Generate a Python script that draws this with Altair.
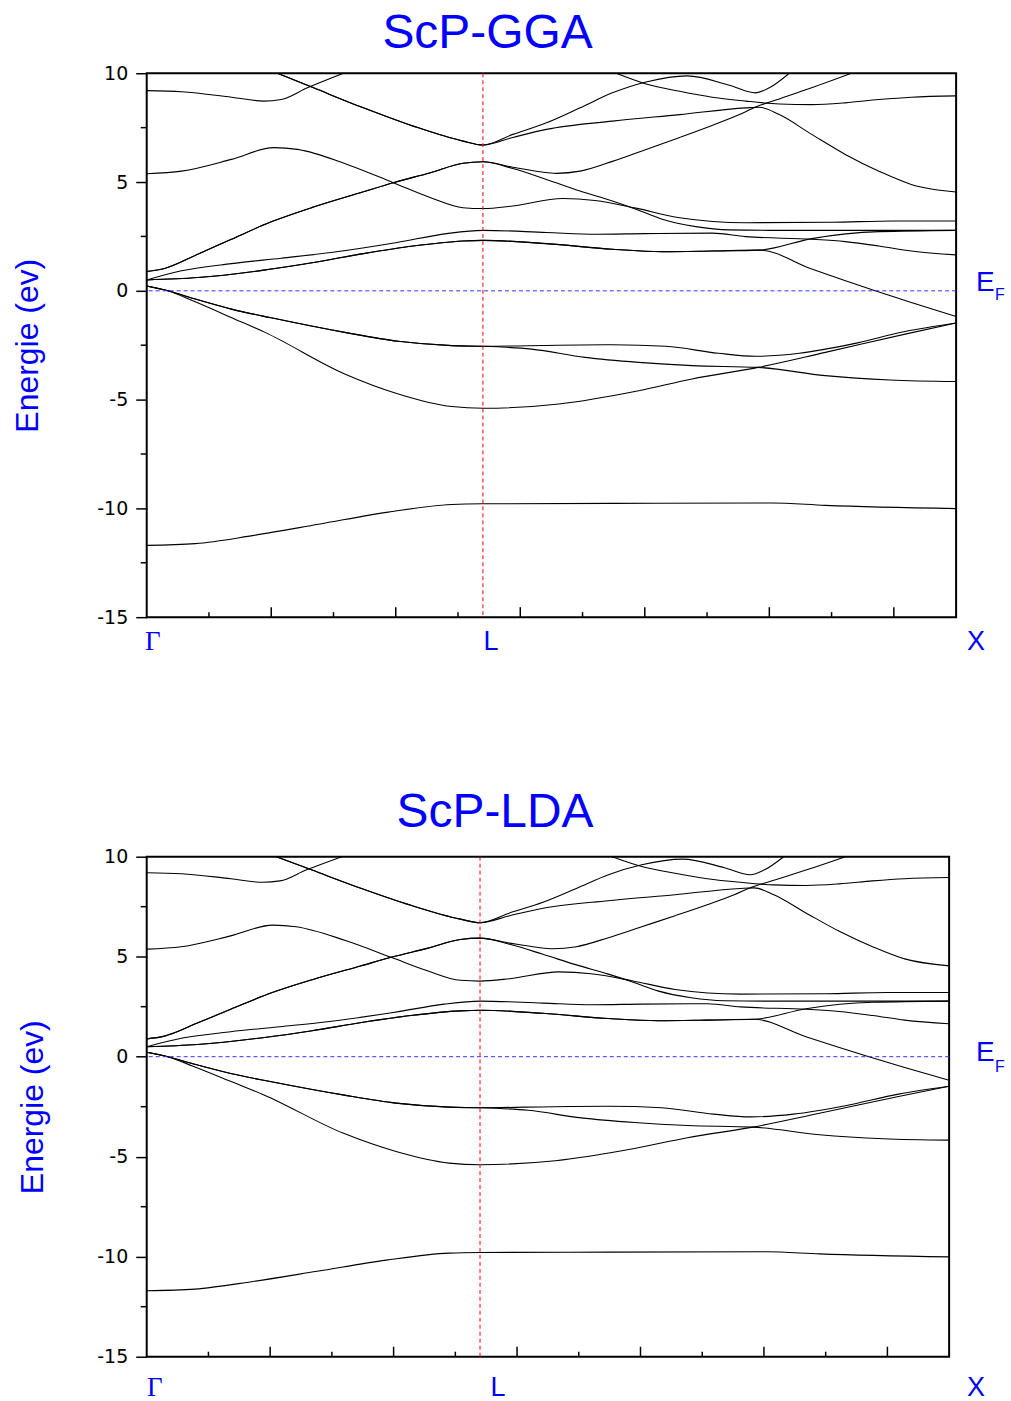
import altair as alt
import pandas as pd

BLUE = "#0000FF"
EF_BLUE = "#3333FF"

# high-symmetry points along the k-path (plot units)
SYM_LABELS = ["Γ", "L", "X"]
SYM_K = [0.0, 2.7, 6.5]
E_FERMI = 0.0

# axis tick values
Y_MAJOR = [-15, -10, -5, 0, 5, 10]
Y_MINOR = [-12.5, -7.5, -2.5, 2.5, 7.5]
K_MAJOR = [1, 2, 3, 4, 5, 6]
K_MINOR = [0.5, 1.5, 2.5, 3.5, 4.5, 5.5]

# ---- band segments: k coordinate and energy (eV) ----
# lowest valence band (P-s like), whole path
s1_k = [0.0, 0.39, 0.86, 1.38, 1.94, 2.45, 2.7, 3.74, 5.02, 5.45, 6.5]
s1_e = [-11.70, -11.62, -11.24, -10.73, -10.17, -9.82, -9.79, -9.77, -9.75, -9.86, -10.01]

# valence band dropping to L
v2_gl_k = [0.0, 0.17, 0.37, 0.70, 0.95, 1.59, 2.02, 2.45, 2.7]
v2_gl_e = [0.22, 0.0, -0.46, -1.28, -1.91, -3.82, -4.74, -5.32, -5.40]
v2_lx_k = [2.7, 3.31, 3.95, 4.38, 4.91, 5.45, 6.1, 6.5]
v2_lx_e = [-5.40, -5.20, -4.59, -4.05, -3.52, -2.83, -1.98, -1.48]

# doubly degenerate valence pair on Γ-L, splitting after L
v34_gl_k = [0.0, 0.17, 0.39, 0.68, 1.0, 1.59, 2.02, 2.45, 2.7]
v34_gl_e = [0.22, 0.0, -0.38, -0.84, -1.24, -1.91, -2.32, -2.52, -2.55]
v3_lx_k = [2.7, 3.09, 3.52, 3.95, 4.38, 4.91, 5.45, 5.97, 6.5]
v3_lx_e = [-2.55, -2.68, -3.06, -3.29, -3.44, -3.52, -3.90, -4.10, -4.17]
v4_lx_k = [2.7, 3.3, 3.74, 4.17, 4.59, 4.89, 5.24, 5.66, 6.09, 6.5]
v4_lx_e = [-2.55, -2.50, -2.48, -2.55, -2.87, -3.01, -2.87, -2.45, -1.87, -1.48]

# conduction pair from 0.5 eV at Γ (degenerate on Γ-L)
cT_gl_k = [0.0, 0.41, 0.94, 1.34, 1.74, 2.14, 2.54, 2.7]
cT_gl_e = [0.50, 0.61, 0.95, 1.30, 1.71, 2.06, 2.29, 2.32]
cT_lx_k = [2.7, 3.21, 3.74, 4.14, 4.54, 4.92]
cT_lx_e = [2.32, 2.17, 1.91, 1.80, 1.83, 1.87]
cT_up_k = [4.92, 5.34, 5.88, 6.5]
cT_up_e = [1.87, 2.40, 2.72, 2.78]
cT_dn_k = [4.92, 5.34, 5.85, 6.14, 6.5]
cT_dn_e = [1.87, 1.00, 0.00, -0.54, -1.18]

# single conduction band from 0.5 eV at Γ
cS_gl_k = [0.0, 0.28, 0.68, 1.08, 1.48, 2.01, 2.41, 2.7]
cS_gl_e = [0.50, 0.92, 1.25, 1.50, 1.76, 2.22, 2.63, 2.78]
cS_lx_k = [2.7, 3.21, 3.61, 4.0, 4.54, 4.81, 5.34, 5.61, 5.88, 6.14, 6.5]
cS_lx_e = [2.78, 2.68, 2.60, 2.63, 2.65, 2.49, 2.37, 2.26, 2.06, 1.83, 1.65]

# degenerate pair from 0.89 eV at Γ up to L
cA_gl_k = [0.0, 0.144, 0.41, 0.68, 1.0, 1.34, 1.74, 1.98, 2.28, 2.54, 2.7]
cA_gl_e = [0.89, 1.03, 1.68, 2.37, 3.17, 3.85, 4.55, 4.97, 5.43, 5.86, 5.93]
cP_lx_k = [2.7, 2.94, 3.16, 3.29, 3.48, 3.74, 4.01, 4.28, 4.54, 4.76, 4.89, 5.08, 5.34, 5.66]
cP_lx_e = [5.93, 5.68, 5.47, 5.40, 5.50, 5.95, 6.50, 7.05, 7.60, 8.10, 8.45, 8.82, 9.33, 10.0]
cQ_lx_k = [2.7, 2.94, 3.21, 3.48, 3.74, 3.93, 4.14, 4.41, 4.68, 5.0, 6.5]
cQ_lx_e = [5.93, 5.62, 5.12, 4.59, 4.13, 3.75, 3.29, 2.95, 2.80, 2.78, 2.78]

# band from 5.38 eV at Γ
cR_gl_k = [0.0, 0.28, 0.68, 1.02, 1.21, 1.61, 1.98, 2.28, 2.54, 2.7]
cR_gl_e = [5.38, 5.50, 6.04, 6.58, 6.50, 5.81, 4.97, 4.28, 3.82, 3.78]
cR_lx_k = [2.7, 2.94, 3.34, 3.6, 3.93, 4.28, 4.81, 5.5, 6.0, 6.5]
cR_lx_e = [3.78, 3.90, 4.24, 4.15, 3.80, 3.36, 3.13, 3.15, 3.21, 3.21]

# band from 9.2 eV at Γ
c9_gl_k = [0.0, 0.28, 0.68, 0.94, 1.08, 1.29, 1.58]
c9_gl_e = [9.20, 9.15, 8.90, 8.72, 8.79, 9.33, 10.0]

# degenerate pair entering from the top and reaching 6.7 eV at L
cU_gl_k = [1.05, 1.34, 1.74, 2.14, 2.54, 2.7]
cU_gl_e = [10.0, 9.33, 8.41, 7.57, 6.88, 6.70]
cV_lx_k = [2.7, 2.94, 3.21, 3.48, 3.74, 4.01, 4.34, 4.68, 4.89, 5.0, 5.16]
cV_lx_e = [6.70, 7.19, 7.72, 8.41, 9.10, 9.60, 9.88, 9.45, 9.10, 9.33, 10.0]
cW_lx_k = [2.7, 2.94, 3.21, 3.74, 4.28, 4.81, 4.92, 5.08, 5.34, 5.61, 5.88, 6.14, 6.5]
cW_lx_e = [6.70, 7.05, 7.42, 7.80, 8.10, 8.41, 8.44, 8.10, 7.19, 6.27, 5.50, 4.89, 4.54]

# band entering from the top on L-X
cX_lx_k = [3.77, 4.01, 4.28, 4.54, 4.81, 5.08, 5.34, 5.61, 5.88, 6.14, 6.5]
cX_lx_e = [10.0, 9.51, 9.17, 8.90, 8.72, 8.59, 8.56, 8.64, 8.79, 8.90, 8.96]

BAND_PATHS = {
    "b01": [(s1_k, s1_e)],
    "b02": [(v2_gl_k, v2_gl_e), (v2_lx_k, v2_lx_e)],
    "b03": [(v34_gl_k, v34_gl_e), (v3_lx_k, v3_lx_e)],
    "b04": [(v34_gl_k, v34_gl_e), (v4_lx_k, v4_lx_e)],
    "b05": [(cT_gl_k, cT_gl_e), (cT_lx_k, cT_lx_e), (cT_dn_k, cT_dn_e)],
    "b06": [(cT_gl_k, cT_gl_e), (cT_lx_k, cT_lx_e), (cT_up_k, cT_up_e)],
    "b07": [(cS_gl_k, cS_gl_e), (cS_lx_k, cS_lx_e)],
    "b08": [(cA_gl_k, cA_gl_e), (cQ_lx_k, cQ_lx_e)],
    "b09": [(cA_gl_k, cA_gl_e), (cP_lx_k, cP_lx_e)],
    "b10": [(cR_gl_k, cR_gl_e), (cR_lx_k, cR_lx_e)],
    "b11": [(c9_gl_k, c9_gl_e)],
    "b12": [(cU_gl_k, cU_gl_e), (cV_lx_k, cV_lx_e)],
    "b13": [(cU_gl_k, cU_gl_e), (cW_lx_k, cW_lx_e)],
    "b14": [(cX_lx_k, cX_lx_e)],
}


def join_segments(name, segs):
    rows = []
    for ks, es in segs:
        for k, e in zip(ks, es):
            if rows and abs(rows[-1]["k"] - k) < 1e-9:
                continue
            rows.append({"band": name, "k": k, "E": e})
    return rows


band_rows = []
for name, segs in BAND_PATHS.items():
    band_rows += join_segments(name, segs)
bands = pd.DataFrame(band_rows)

ef_df = pd.DataFrame({"E": [E_FERMI]})
sym_df = pd.DataFrame({"k": SYM_K, "name": SYM_LABELS})


def panel(title, w, h, ytitle_pad, title_dx, title_offset, lab_y, dxs, ef_dx, ef_dy):
    xs = alt.Scale(domain=[SYM_K[0], SYM_K[-1]], nice=False, zero=False)
    ys = alt.Scale(domain=[Y_MAJOR[0], Y_MAJOR[-1]], nice=False, zero=False)
    yaxis = alt.Axis(
        values=Y_MAJOR, tickSize=11, tickWidth=1.5, tickColor="black",
        domain=False, grid=False, labelExpr="'' + datum.value",
        labelFont="DejaVu Sans", labelFontSize=19, labelColor="black", labelPadding=8,
        title="Energie (ev)", titleFont="Liberation Sans", titleFontSize=32,
        titleFontWeight="normal", titleColor=BLUE, titlePadding=ytitle_pad,
    )

    def X(f):
        return alt.X(f, type="quantitative", scale=xs, axis=None)

    def Y(f):
        return alt.Y(f, type="quantitative", scale=ys, axis=yaxis)

    lines = alt.Chart(bands).mark_line(
        color="black", strokeWidth=1.1, interpolate="monotone", clip=True
    ).encode(x=X("k"), y=Y("E"), detail="band:N")

    ef_line = alt.Chart(ef_df).mark_rule(
        color=EF_BLUE, strokeWidth=1, strokeDash=[4, 3]
    ).encode(y=Y("E"))

    l_line = alt.Chart(sym_df.iloc[[1]]).mark_rule(
        color="#FF0000", strokeWidth=1, strokeDash=[4, 3]
    ).encode(x=X("k"))

    y_minor = alt.Chart(pd.DataFrame({"E": Y_MINOR})).mark_rule(
        color="black", strokeWidth=1.5
    ).encode(y=Y("E"), x=alt.value(-6), x2=alt.value(0))

    x_major = alt.Chart(pd.DataFrame({"k": K_MAJOR})).mark_rule(
        color="black", strokeWidth=1.5
    ).encode(x=X("k"), y=alt.value(h), y2=alt.value(h - 10))

    x_minor = alt.Chart(pd.DataFrame({"k": K_MINOR})).mark_rule(
        color="black", strokeWidth=1.5
    ).encode(x=X("k"), y=alt.value(h), y2=alt.value(h - 5))

    labels = []
    for i, font in enumerate(["Liberation Serif", "Liberation Sans", "Liberation Sans"]):
        labels.append(
            alt.Chart(sym_df.iloc[[i]]).mark_text(
                font=font, fontSize=27, color=BLUE, align="center",
                baseline="alphabetic", dx=dxs[i],
            ).encode(x=X("k"), y=alt.value(h + lab_y), text="name:N")
        )

    ef_e = alt.Chart(ef_df).mark_text(
        text="E", font="Liberation Sans", fontSize=28, color=BLUE,
        align="left", baseline="alphabetic", dy=ef_dy[0],
    ).encode(x=alt.value(w + ef_dx), y=Y("E"))
    ef_f = alt.Chart(ef_df).mark_text(
        text="F", font="Liberation Sans", fontSize=16, color=BLUE,
        align="left", baseline="alphabetic", dy=ef_dy[1],
    ).encode(x=alt.value(w + ef_dx + 19), y=Y("E"))

    return alt.layer(
        lines, ef_line, l_line, y_minor, x_major, x_minor, *labels, ef_e, ef_f
    ).properties(
        width=w, height=h,
        title=alt.TitleParams(
            title, font="Liberation Sans", fontSize=48, fontWeight="normal",
            color=BLUE, anchor="middle", frame="group", dx=title_dx,
            offset=title_offset, baseline="alphabetic",
        ),
    )


top = panel("ScP-GGA", 811, 545, ytitle_pad=52, title_dx=-64, title_offset=-32,
            lab_y=33, dxs=[6, 8, 20], ef_dx=20, ef_dy=(0, 9))
bottom = panel("ScP-LDA", 804, 501, ytitle_pad=47, title_dx=-53, title_offset=-27,
               lab_y=39, dxs=[8, 18, 27], ef_dx=27, ef_dy=(4, 15))

chart = alt.vconcat(top, bottom, spacing=132).resolve_scale(
    x="independent", y="independent"
).properties(
    padding={"left": 10, "top": 8, "right": 5, "bottom": 5}
).configure_view(stroke="black", strokeWidth=2)

chart.save("out.html", embed_options={"renderer": "svg", "actions": False})
